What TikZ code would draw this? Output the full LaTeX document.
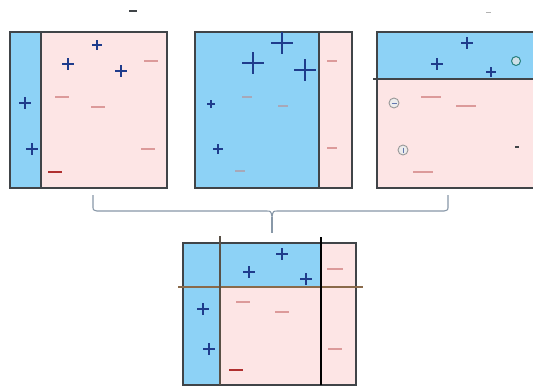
\documentclass[tikz,border=0pt]{standalone}
\definecolor{skyb}{HTML}{8DD2F6}
\definecolor{pinkb}{HTML}{FDE5E5}
\definecolor{navyp}{HTML}{1F3C8C}
\definecolor{minusl}{HTML}{DC9A9A}
\definecolor{minusd}{HTML}{B03030}
\definecolor{minusg}{HTML}{A8A8B8}
\definecolor{framec}{HTML}{404448}
\definecolor{bracec}{HTML}{8898A8}
\definecolor{cutline}{HTML}{8A6A4A}
\tikzset{
  frame/.style={draw=framec,line width=1.4pt},
  divider/.style={draw=framec,line width=1.2pt},
  pluslines/.style={draw=navyp,line width=1.2pt},
  pics/plus/.style={code={\draw[pluslines] (-#1,0)--(#1,0) (0,-#1)--(0,#1);}},
  pics/minus/.style={code={\draw[line width=1.6pt,draw=minusl] (-#1,0)--(#1,0);}},
  pics/minusd/.style={code={\draw[line width=1.8pt,draw=minusd] (-#1,0)--(#1,0);}},
  pics/minusg/.style={code={\draw[line width=1.5pt,draw=minusg] (-#1,0)--(#1,0);}},
  circmark/.style={circle,draw=gray!80,fill=white!85!gray,inner sep=0pt,minimum size=10pt,line width=0.9pt},
}
\begin{document}
\begin{tikzpicture}[x=1pt,y=-1pt]
\useasboundingbox[fill=white] (0,0) rectangle (533,388);
% tiny marks at top
\draw[line width=1.3pt,draw=framec] (129,11)--(137,11);
\draw[line width=1pt,draw=gray!60] (486,12)--(491,12);
% ---------- Panel 1 ----------
\fill[pinkb] (10,32) rectangle (167,188);
\fill[skyb] (10,32) rectangle (41,188);
\draw[divider] (41,32)--(41,188);
\draw[frame] (10,32) rectangle (167,188);
\pic at (97,45) {plus=5};
\pic at (68,64) {plus=6};
\pic at (121,71) {plus=6};
\pic at (25,103) {plus=6};
\pic at (32,149) {plus=6};
\pic at (151,61) {minus=7};
\pic at (62,97) {minus=7};
\pic at (98,107) {minus=7};
\pic at (148,149) {minus=7};
\pic at (55,172) {minusd=7};
% ---------- Panel 2 ----------
\fill[pinkb] (195,32) rectangle (352,188);
\fill[skyb] (195,32) rectangle (319,188);
\draw[divider] (319,32)--(319,188);
\draw[frame] (195,32) rectangle (352,188);
\pic at (282,43) {plus=11};
\pic at (253,63) {plus=11};
\pic at (305,70) {plus=11};
\pic at (211,104) {plus=4};
\pic at (218,149) {plus=5};
\pic at (332,61) {minus=5};
\pic at (247,97) {minusg=5};
\pic at (283,106) {minusg=5};
\pic at (332,148) {minus=5};
\pic at (240,171) {minusg=5};
% ---------- Panel 3 ----------
\fill[pinkb] (377,32) rectangle (533,188);
\fill[skyb] (377,32) rectangle (533,79);
\draw[divider] (373,79)--(533,79);
\draw[frame] (533,32)--(377,32)--(377,188)--(533,188);
\pic at (467,43) {plus=6};
\pic at (437,64) {plus=6};
\pic at (491,72) {plus=5};
\node[circle,draw=teal!70!gray,fill=skyb!60!gray!40,inner sep=0pt,minimum size=9pt,line width=1pt] (c1) at (516,61) {};
\node[circmark] (c2) at (394,103) {};
\node[circmark] (c3) at (403,150) {};
\draw[line width=0.9pt,draw=navyp!70] (391.5,103)--(396.5,103);
\draw[line width=0.9pt,draw=navyp!70] (403,147.5)--(403,152.5);
\pic at (431,97) {minus=10};
\pic at (466,106) {minus=10};
\draw[line width=1.5pt,draw=framec] (515,147)--(519,147);
\pic at (423,172) {minus=10};
% ---------- Brace ----------
\draw[draw=bracec,line width=1.1pt]
  (93,195) -- (93,206) .. controls (93,210) .. (97,211) -- (266,211)
  .. controls (271,211) .. (272,217) .. controls (273,211) .. (278,211)
  -- (444,211) .. controls (448,210) .. (448,206) -- (448,195);
\draw[draw=bracec,line width=1.1pt] (272,217) -- (272,233);
% ---------- Bottom panel ----------
\fill[pinkb] (183,243) rectangle (356,385);
\fill[skyb] (183,243) rectangle (220,385);
\fill[skyb] (183,243) rectangle (321,287);
\draw[frame] (183,243) rectangle (356,385);
\draw[draw=cutline,line width=1.2pt] (178,287)--(363,287);
\draw[draw=framec!80!brown,line width=1.2pt] (220,236)--(220,385);
\draw[draw=black,line width=1.4pt] (321,237)--(321,385);
\pic at (282,254) {plus=6};
\pic at (249,272) {plus=6};
\pic at (306,279) {plus=6};
\pic at (203,309) {plus=6};
\pic at (209,349) {plus=6};
\pic at (335,269) {minus=8};
\pic at (243,302) {minus=7};
\pic at (282,312) {minus=7};
\pic at (335,349) {minus=7};
\pic at (236,370) {minusd=7};
\end{tikzpicture}
\end{document}
